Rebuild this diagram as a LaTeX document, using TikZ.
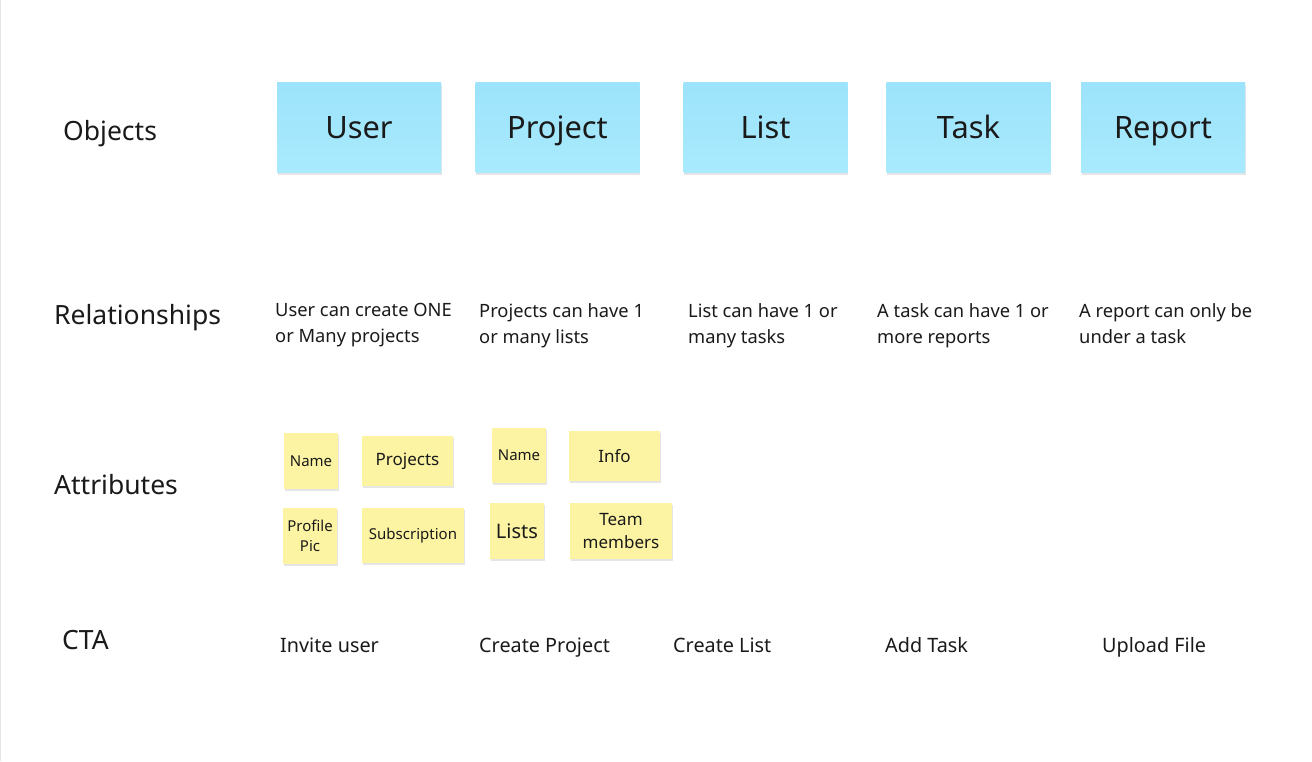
\documentclass[tikz,border=0pt]{standalone}
\usepackage{fontspec}
\setmainfont{Noto Sans}
\usetikzlibrary{shadows}
\definecolor{objbluetop}{HTML}{9CE3FB}
\definecolor{objbluebot}{HTML}{A9EAFD}
\definecolor{sticky}{HTML}{FCF4A3}
\definecolor{txt}{HTML}{1A1A1A}
\tikzset{
  objbox/.style={rectangle, minimum width=164pt, minimum height=90pt, inner sep=0pt,
    text height=29pt, text depth=7pt,
    top color=objbluetop, bottom color=objbluebot, text=txt,
    font=\fontsize{30.8}{36}\selectfont,
    drop shadow={shadow xshift=0.5pt, shadow yshift=-2.5pt, opacity=0.10, fill=black}},
  stickybox/.style={rectangle, inner sep=0pt, fill=sticky, text=txt, align=center,
    drop shadow={shadow xshift=0.5pt, shadow yshift=-2pt, opacity=0.10, fill=black}},
  rowlabel/.style={anchor=base west, inner sep=0pt, text=txt, font=\fontsize{26.5}{30}\selectfont},
  reltext/.style={anchor=north west, inner sep=0pt, align=left, text=txt, font=\fontsize{18.3}{26}\selectfont},
  ctatext/.style={anchor=base west, inner sep=0pt, text=txt, font=\fontsize{19.8}{24}\selectfont}
}
\begin{document}
\begin{tikzpicture}[x=1pt, y=-1pt]
\fill[white] (0,0) rectangle (1312,761);
\useasboundingbox (0,0) rectangle (1312,761);
\draw[black!10, line width=1pt] (0.5,0) -- (0.5,761);

% row labels
\node[rowlabel] (lobj) at (63,140) {Objects};
\node[rowlabel] (lrel) at (54,324) {Relationships};
\node[rowlabel] (latt) at (54,494) {Attributes};
\node[rowlabel] (lcta) at (62,649) {CTA};

% objects
\node[objbox] (user) at (359,127) {User};
\node[objbox] (project) at (557.5,127) {Project};
\node[objbox] (list) at (765.5,127) {List};
\node[objbox] (task) at (968.5,127) {Task};
\node[objbox] (report) at (1163,127) {Report};

% relationships
\node[reltext] (ruser) at (275,303) {User can create ONE\\or Many projects};
\node[reltext] (rproject) at (479,303) {Projects can have 1\\or many lists};
\node[reltext] (rlist) at (688,303) {List can have 1 or\\many tasks};
\node[reltext] (rtask) at (877,303) {A task can have 1 or\\more reports};
\node[reltext] (rreport) at (1079,303) {A report can only be\\under a task};

% attributes
\node[stickybox, minimum width=54pt, minimum height=56pt, font=\fontsize{15}{18}\selectfont] (aname1) at (311,461) {Name};
\node[stickybox, minimum width=91pt, minimum height=50pt, text height=13pt, text depth=4pt, font=\fontsize{17}{20}\selectfont] (aprojects) at (407.5,461) {Projects};
\node[stickybox, minimum width=54pt, minimum height=56pt, font=\fontsize{15}{20}\selectfont] (apic) at (310,536) {Profile\\Pic};
\node[stickybox, minimum width=102pt, minimum height=55pt, font=\fontsize{15}{18}\selectfont] (asub) at (413,535.5) {Subscription};
\node[stickybox, minimum width=54pt, minimum height=55pt, font=\fontsize{15}{18}\selectfont] (aname2) at (519,455.5) {Name};
\node[stickybox, minimum width=91pt, minimum height=50pt, font=\fontsize{17}{20}\selectfont] (ainfo) at (614.5,456) {Info};
\node[stickybox, minimum width=54pt, minimum height=56pt, font=\fontsize{20}{24}\selectfont] (alists) at (517,531) {Lists};
\node[stickybox, minimum width=102pt, minimum height=56pt, font=\fontsize{17}{23}\selectfont] (ateam) at (621,531) {Team\\members};

% CTA
\node[ctatext] (cuser) at (280,652) {Invite user};
\node[ctatext] (cproject) at (479,652) {Create Project};
\node[ctatext] (clist) at (673,652) {Create List};
\node[ctatext] (ctask) at (885,652) {Add Task};
\node[ctatext] (creport) at (1102,652) {Upload File};
\end{tikzpicture}
\end{document}
